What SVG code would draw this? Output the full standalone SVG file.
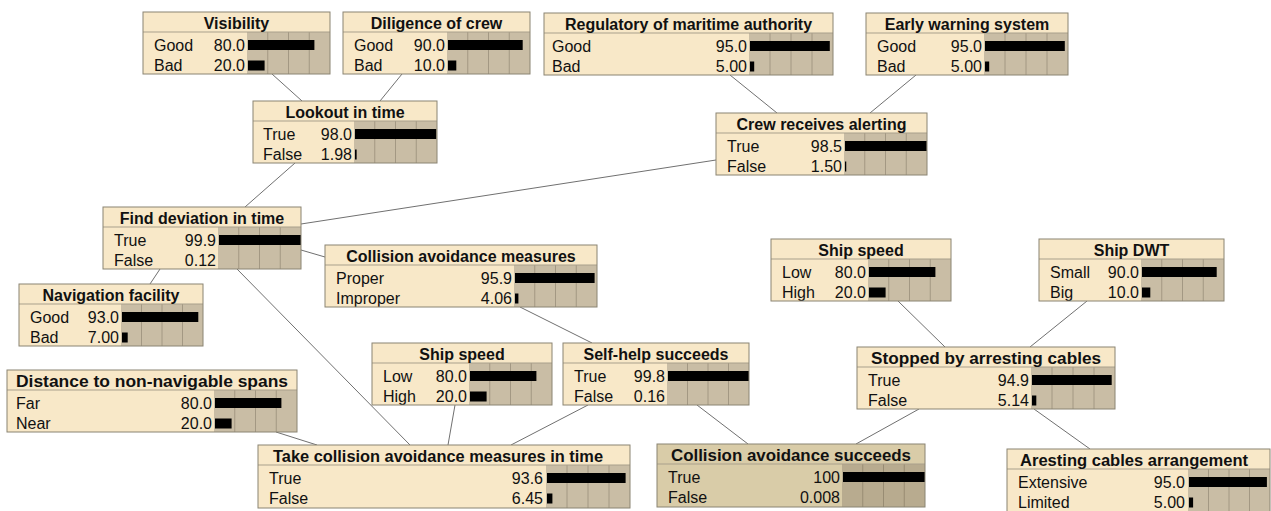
<svg xmlns="http://www.w3.org/2000/svg" width="1271" height="511" viewBox="0 0 1271 511">
<style>
.bg{fill:#F8E8C8}
.bg2{fill:#D9CCA8}
.area{fill:#C9BDA5}
.area2{fill:#B8AB8F}
.grid{stroke:#A39883;stroke-width:1}
.grid2{stroke:#988C73;stroke-width:1}
.sep{stroke:#A9A08C;stroke-width:1}
.frame{fill:none;stroke:#8A8473;stroke-width:1}
.bar{fill:#000}
.t{font-family:"Liberation Sans",Arial,sans-serif;font-size:16px;font-weight:bold;text-anchor:middle;fill:#111}
.l{font-family:"Liberation Sans",Arial,sans-serif;font-size:16px;fill:#111}
.v{font-family:"Liberation Sans",Arial,sans-serif;font-size:16px;text-anchor:end;fill:#111}
.edge{stroke:#707070;stroke-width:1;fill:none}
</style>
<g id="connectors">
<line class="edge" x1="272" y1="74" x2="302" y2="101"/>
<line class="edge" x1="402" y1="74" x2="380" y2="101"/>
<line class="edge" x1="730" y1="75" x2="777" y2="113"/>
<line class="edge" x1="916" y1="75" x2="870" y2="113"/>
<line class="edge" x1="295" y1="163" x2="245" y2="207"/>
<line class="edge" x1="716" y1="160" x2="301" y2="224"/>
<line class="edge" x1="301" y1="250" x2="325" y2="257"/>
<line class="edge" x1="160" y1="269" x2="150" y2="284"/>
<line class="edge" x1="237" y1="269" x2="410" y2="445"/>
<line class="edge" x1="520" y1="307" x2="592" y2="343"/>
<line class="edge" x1="455" y1="405" x2="448" y2="445"/>
<line class="edge" x1="588" y1="405" x2="511" y2="445"/>
<line class="edge" x1="276" y1="432" x2="317" y2="445"/>
<line class="edge" x1="697" y1="405" x2="748" y2="444"/>
<line class="edge" x1="919" y1="409" x2="856" y2="444"/>
<line class="edge" x1="1034" y1="409" x2="1090" y2="449"/>
<line class="edge" x1="898" y1="301" x2="945" y2="347"/>
<line class="edge" x1="1087" y1="301" x2="1030" y2="347"/>
</g>

<g id="n-visibility">
<rect class="bg" x="143" y="12" width="187" height="62"/>
<rect class="area" x="247" y="32" width="83" height="42"/>
<path class="grid" d="M267.75 32V74M288.5 32V74M309.25 32V74"/>
<line class="sep" x1="143" y1="32" x2="330" y2="32"/>
<rect class="bar" x="248" y="40" width="66.4" height="10"/>
<rect class="bar" x="248" y="60.5" width="16.6" height="10"/>
<text class="t" x="236.5" y="28.5">Visibility</text>
<text class="l" x="154" y="50.5">Good</text><text class="v" x="245" y="50.5">80.0</text>
<text class="l" x="154" y="71">Bad</text><text class="v" x="245" y="71">20.0</text>
<rect class="frame" x="143" y="12" width="187" height="62"/>
</g>

<g id="n-diligence">
<rect class="bg" x="343" y="12" width="187" height="62"/>
<rect class="area" x="447" y="32" width="83" height="42"/>
<path class="grid" d="M467.75 32V74M488.5 32V74M509.25 32V74"/>
<line class="sep" x1="343" y1="32" x2="530" y2="32"/>
<rect class="bar" x="448" y="40" width="74.7" height="10"/>
<rect class="bar" x="448" y="60.5" width="8.3" height="10"/>
<text class="t" x="436.5" y="28.5">Diligence of crew</text>
<text class="l" x="354" y="50.5">Good</text><text class="v" x="445" y="50.5">90.0</text>
<text class="l" x="354" y="71">Bad</text><text class="v" x="445" y="71">10.0</text>
<rect class="frame" x="343" y="12" width="187" height="62"/>
</g>

<g id="n-regulatory">
<rect class="bg" x="544" y="13" width="289" height="62"/>
<rect class="area" x="749" y="33" width="84" height="42"/>
<path class="grid" d="M770 33V75M791 33V75M812 33V75"/>
<line class="sep" x1="544" y1="33" x2="833" y2="33"/>
<rect class="bar" x="750" y="41" width="79.8" height="10"/>
<rect class="bar" x="750" y="61.5" width="4.2" height="10"/>
<text class="t" x="688.5" y="29.5">Regulatory of maritime authority</text>
<text class="l" x="552" y="51.5">Good</text><text class="v" x="747" y="51.5">95.0</text>
<text class="l" x="552" y="72">Bad</text><text class="v" x="747" y="72">5.00</text>
<rect class="frame" x="544" y="13" width="289" height="62"/>
</g>

<g id="n-earlywarning">
<rect class="bg" x="866" y="13" width="202" height="62"/>
<rect class="area" x="984" y="33" width="84" height="42"/>
<path class="grid" d="M1005 33V75M1026 33V75M1047 33V75"/>
<line class="sep" x1="866" y1="33" x2="1068" y2="33"/>
<rect class="bar" x="985" y="41" width="79.8" height="10"/>
<rect class="bar" x="985" y="61.5" width="4.2" height="10"/>
<text class="t" x="967" y="29.5">Early warning system</text>
<text class="l" x="877" y="51.5">Good</text><text class="v" x="982" y="51.5">95.0</text>
<text class="l" x="877" y="72">Bad</text><text class="v" x="982" y="72">5.00</text>
<rect class="frame" x="866" y="13" width="202" height="62"/>
</g>

<g id="n-lookout">
<rect class="bg" x="253" y="101" width="184" height="62"/>
<rect class="area" x="354" y="121" width="83" height="42"/>
<path class="grid" d="M374.75 121V163M395.5 121V163M416.25 121V163"/>
<line class="sep" x1="253" y1="121" x2="437" y2="121"/>
<rect class="bar" x="355" y="129" width="81.3" height="10"/>
<rect class="bar" x="355" y="149.5" width="1.64" height="10"/>
<text class="t" x="345" y="117.5">Lookout in time</text>
<text class="l" x="263" y="139.5">True</text><text class="v" x="352" y="139.5">98.0</text>
<text class="l" x="263" y="160">False</text><text class="v" x="352" y="160">1.98</text>
<rect class="frame" x="253" y="101" width="184" height="62"/>
</g>

<g id="n-crewalert">
<rect class="bg" x="716" y="113" width="211" height="62"/>
<rect class="area" x="844" y="133" width="83" height="42"/>
<path class="grid" d="M864.75 133V175M885.5 133V175M906.25 133V175"/>
<line class="sep" x1="716" y1="133" x2="927" y2="133"/>
<rect class="bar" x="845" y="141" width="81.8" height="10"/>
<rect class="bar" x="845" y="161.5" width="1.25" height="10"/>
<text class="t" x="821.5" y="129.5">Crew receives alerting</text>
<text class="l" x="727" y="151.5">True</text><text class="v" x="842" y="151.5">98.5</text>
<text class="l" x="727" y="172">False</text><text class="v" x="842" y="172">1.50</text>
<rect class="frame" x="716" y="113" width="211" height="62"/>
</g>

<g id="n-finddeviation">
<rect class="bg" x="103" y="207" width="198" height="62"/>
<rect class="area" x="218" y="227" width="83" height="42"/>
<path class="grid" d="M238.75 227V269M259.5 227V269M280.25 227V269"/>
<line class="sep" x1="103" y1="227" x2="301" y2="227"/>
<rect class="bar" x="219" y="235" width="82" height="10"/>
<text class="t" x="202" y="223.5">Find deviation in time</text>
<text class="l" x="114" y="245.5">True</text><text class="v" x="216" y="245.5">99.9</text>
<text class="l" x="114" y="266">False</text><text class="v" x="216" y="266">0.12</text>
<rect class="frame" x="103" y="207" width="198" height="62"/>
</g>

<g id="n-navigation">
<rect class="bg" x="19" y="284" width="184" height="62"/>
<rect class="area" x="121" y="304" width="82" height="42"/>
<path class="grid" d="M141.5 304V346M162 304V346M182.5 304V346"/>
<line class="sep" x1="19" y1="304" x2="203" y2="304"/>
<rect class="bar" x="122" y="312" width="76.3" height="10"/>
<rect class="bar" x="122" y="332.5" width="5.7" height="10"/>
<text class="t" x="111" y="300.5">Navigation facility</text>
<text class="l" x="30" y="322.5">Good</text><text class="v" x="119" y="322.5">93.0</text>
<text class="l" x="30" y="343">Bad</text><text class="v" x="119" y="343">7.00</text>
<rect class="frame" x="19" y="284" width="184" height="62"/>
</g>

<g id="n-collisionmeasures">
<rect class="bg" x="325" y="245" width="272" height="62"/>
<rect class="area" x="514" y="265" width="83" height="42"/>
<path class="grid" d="M534.75 265V307M555.5 265V307M576.25 265V307"/>
<line class="sep" x1="325" y1="265" x2="597" y2="265"/>
<rect class="bar" x="515" y="273" width="79.6" height="10"/>
<rect class="bar" x="515" y="293.5" width="3.4" height="10"/>
<text class="t" x="461" y="261.5">Collision avoidance measures</text>
<text class="l" x="336" y="283.5">Proper</text><text class="v" x="512" y="283.5">95.9</text>
<text class="l" x="336" y="304">Improper</text><text class="v" x="512" y="304">4.06</text>
<rect class="frame" x="325" y="245" width="272" height="62"/>
</g>

<g id="n-shipspeed-r">
<rect class="bg" x="771" y="239" width="180" height="62"/>
<rect class="area" x="868" y="259" width="83" height="42"/>
<path class="grid" d="M888.75 259V301M909.5 259V301M930.25 259V301"/>
<line class="sep" x1="771" y1="259" x2="951" y2="259"/>
<rect class="bar" x="869" y="267" width="66.4" height="10"/>
<rect class="bar" x="869" y="287.5" width="16.6" height="10"/>
<text class="t" x="861" y="255.5">Ship speed</text>
<text class="l" x="782" y="277.5">Low</text><text class="v" x="866" y="277.5">80.0</text>
<text class="l" x="782" y="298">High</text><text class="v" x="866" y="298">20.0</text>
<rect class="frame" x="771" y="239" width="180" height="62"/>
</g>

<g id="n-shipdwt">
<rect class="bg" x="1039" y="239" width="185" height="62"/>
<rect class="area" x="1141" y="259" width="83" height="42"/>
<path class="grid" d="M1161.75 259V301M1182.5 259V301M1203.25 259V301"/>
<line class="sep" x1="1039" y1="259" x2="1224" y2="259"/>
<rect class="bar" x="1142" y="267" width="74.7" height="10"/>
<rect class="bar" x="1142" y="287.5" width="8.3" height="10"/>
<text class="t" x="1131.5" y="255.5">Ship DWT</text>
<text class="l" x="1050" y="277.5">Small</text><text class="v" x="1139" y="277.5">90.0</text>
<text class="l" x="1050" y="298">Big</text><text class="v" x="1139" y="298">10.0</text>
<rect class="frame" x="1039" y="239" width="185" height="62"/>
</g>

<g id="n-shipspeed-m">
<rect class="bg" x="372" y="343" width="180" height="62"/>
<rect class="area" x="469" y="363" width="83" height="42"/>
<path class="grid" d="M489.75 363V405M510.5 363V405M531.25 363V405"/>
<line class="sep" x1="372" y1="363" x2="552" y2="363"/>
<rect class="bar" x="470" y="371" width="66.4" height="10"/>
<rect class="bar" x="470" y="391.5" width="16.6" height="10"/>
<text class="t" x="462" y="359.5">Ship speed</text>
<text class="l" x="383" y="381.5">Low</text><text class="v" x="467" y="381.5">80.0</text>
<text class="l" x="383" y="402">High</text><text class="v" x="467" y="402">20.0</text>
<rect class="frame" x="372" y="343" width="180" height="62"/>
</g>

<g id="n-selfhelp">
<rect class="bg" x="563" y="343" width="186" height="62"/>
<rect class="area" x="667" y="363" width="82" height="42"/>
<path class="grid" d="M687.5 363V405M708 363V405M728.5 363V405"/>
<line class="sep" x1="563" y1="363" x2="749" y2="363"/>
<rect class="bar" x="668" y="371" width="81" height="10"/>
<text class="t" x="656" y="359.5">Self-help succeeds</text>
<text class="l" x="574" y="381.5">True</text><text class="v" x="665" y="381.5">99.8</text>
<text class="l" x="574" y="402">False</text><text class="v" x="665" y="402">0.16</text>
<rect class="frame" x="563" y="343" width="186" height="62"/>
</g>

<g id="n-distance">
<rect class="bg" x="7" y="370" width="290" height="62"/>
<rect class="area" x="214" y="390" width="83" height="42"/>
<path class="grid" d="M234.75 390V432M255.5 390V432M276.25 390V432"/>
<line class="sep" x1="7" y1="390" x2="297" y2="390"/>
<rect class="bar" x="215" y="398" width="66.4" height="10"/>
<rect class="bar" x="215" y="418.5" width="16.6" height="10"/>
<text class="t" x="152" y="386.5" textLength="272" lengthAdjust="spacingAndGlyphs">Distance to non-navigable spans</text>
<text class="l" x="16" y="408.5">Far</text><text class="v" x="212" y="408.5">80.0</text>
<text class="l" x="16" y="429">Near</text><text class="v" x="212" y="429">20.0</text>
<rect class="frame" x="7" y="370" width="290" height="62"/>
</g>

<g id="n-stopped">
<rect class="bg" x="857" y="347" width="258" height="62"/>
<rect class="area" x="1031" y="367" width="84" height="42"/>
<path class="grid" d="M1052 367V409M1073 367V409M1094 367V409"/>
<line class="sep" x1="857" y1="367" x2="1115" y2="367"/>
<rect class="bar" x="1032" y="375" width="79.7" height="10"/>
<rect class="bar" x="1032" y="395.5" width="4.3" height="10"/>
<text class="t" x="986" y="363.5" textLength="230" lengthAdjust="spacingAndGlyphs">Stopped by arresting cables</text>
<text class="l" x="868" y="385.5">True</text><text class="v" x="1029" y="385.5">94.9</text>
<text class="l" x="868" y="406">False</text><text class="v" x="1029" y="406">5.14</text>
<rect class="frame" x="857" y="347" width="258" height="62"/>
</g>

<g id="n-takemeasures">
<rect class="bg" x="258" y="445" width="372" height="63"/>
<rect class="area" x="546" y="465" width="84" height="43"/>
<path class="grid" d="M567 465V508M588 465V508M609 465V508"/>
<line class="sep" x1="258" y1="465" x2="630" y2="465"/>
<rect class="bar" x="547" y="473" width="78.6" height="10"/>
<rect class="bar" x="547" y="493.5" width="5.4" height="10"/>
<text class="t" x="438" y="461.5" textLength="330" lengthAdjust="spacingAndGlyphs">Take collision avoidance measures in time</text>
<text class="l" x="269" y="483.5">True</text><text class="v" x="543" y="483.5">93.6</text>
<text class="l" x="269" y="504">False</text><text class="v" x="543" y="504">6.45</text>
<rect class="frame" x="258" y="445" width="372" height="63"/>
</g>

<g id="n-collisionsucceeds">
<rect class="bg2" x="657" y="444" width="268" height="63"/>
<rect class="area2" x="842" y="464" width="83" height="43"/>
<path class="grid2" d="M862.75 464V507M883.5 464V507M904.25 464V507"/>
<line class="sep" x1="657" y1="464" x2="925" y2="464"/>
<rect class="bar" x="843" y="472" width="82" height="10"/>
<text class="t" x="791" y="460.5" textLength="240" lengthAdjust="spacingAndGlyphs">Collision avoidance succeeds</text>
<text class="l" x="668" y="482.5">True</text><text class="v" x="840" y="482.5">100</text>
<text class="l" x="668" y="503">False</text><text class="v" x="840" y="503">0.008</text>
<rect class="frame" x="657" y="444" width="268" height="63"/>
</g>

<g id="n-arresting">
<rect class="bg" x="1007" y="449" width="263" height="63"/>
<rect class="area" x="1188" y="469" width="82" height="43"/>
<path class="grid" d="M1208.5 469V512M1229 469V512M1249.5 469V512"/>
<line class="sep" x1="1007" y1="469" x2="1270" y2="469"/>
<rect class="bar" x="1189" y="477" width="77.9" height="10"/>
<rect class="bar" x="1189" y="497.5" width="4.1" height="10"/>
<text class="t" x="1134" y="465.5" textLength="228" lengthAdjust="spacingAndGlyphs">Aresting cables arrangement</text>
<text class="l" x="1018" y="487.5">Extensive</text><text class="v" x="1185" y="487.5">95.0</text>
<text class="l" x="1018" y="508">Limited</text><text class="v" x="1185" y="508">5.00</text>
<rect class="frame" x="1007" y="449" width="263" height="63"/>
</g>
</svg>
